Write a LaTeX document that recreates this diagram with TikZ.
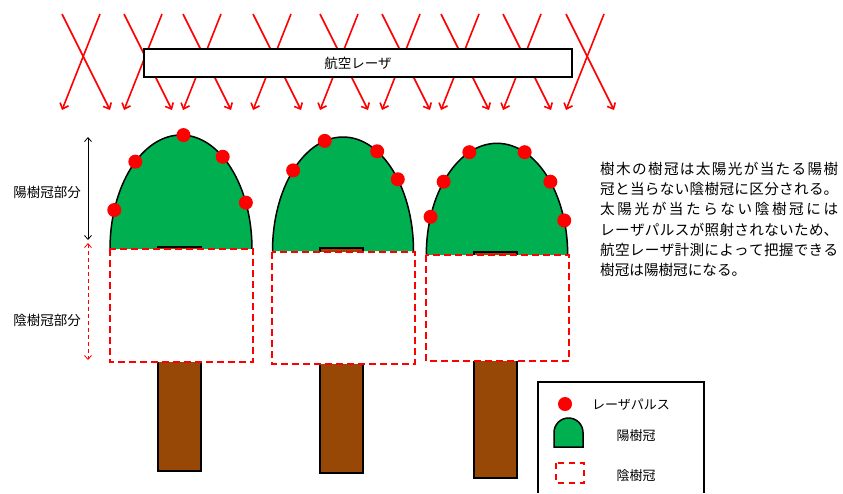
\documentclass[tikz,border=0pt]{standalone}
\usepackage{fontspec}
\setmainfont{Noto Sans CJK JP}
\definecolor{crowngreen}{RGB}{0,176,80}
\definecolor{trunkbrown}{RGB}{151,72,6}
\definecolor{pulsered}{RGB}{255,0,0}
\usetikzlibrary{arrows.meta, positioning, calc}
% Japanese line breaking: stretchable glue between characters, no automatic breaks
\XeTeXlinebreaklocale "ja"
\XeTeXlinebreakskip=0pt plus 6pt
\XeTeXlinebreakpenalty=10000

\begin{document}
\begin{tikzpicture}[
        x=1pt, y=-1pt,
        laser/.style={draw=pulsered, line width=1.6pt,
                      -{Straight Barb[length=5pt,width=9pt]}},
        crown/.style={draw, line width=1.5pt, fill=crowngreen},
        trunk/.style={draw, line width=1.2pt, fill=trunkbrown},
        shadebox/.style={draw=pulsered, line width=1.6pt,
                         dash pattern=on 7pt off 4pt, fill=white},
        pulsedot/.style={circle, fill=pulsered, inner sep=0pt, minimum size=14pt},
        dimarrow/.style={{Straight Barb[length=4pt,width=7pt]}-{Straight Barb[length=4pt,width=7pt]},
                         line width=0.8pt},
        sidetext/.style={font=\fontsize{13.5}{16}\selectfont},
        legtext/.style={font=\fontsize{13}{16}\selectfont}
    ]
        \useasboundingbox (0,0) rectangle (843,493);

        % Laser beams crossing above the canopy
        \foreach \x in {62,124,183,253,320,382,441,503,566} {
            \draw[laser] (\x+38,14) -- (\x,110);
            \draw[laser] (\x,14) -- (\x+48,110);
        }
        \node[draw, line width=1.8pt, fill=white, minimum width=428pt,
              minimum height=28pt, inner sep=0pt,
              font=\fontsize{13.5}{16}\selectfont] (lidar) at (358,63) {航空レーザ};

        % Tree 1
        \coordinate (c1) at (181,249);
        \draw[crown] (110,249) arc[start angle=180, end angle=0, x radius=71pt, y radius=114pt];
        \draw[trunk] (158,247) rectangle (201,471);
        \draw[shadebox] (110,249) rectangle (253,362);
        \node[pulsedot] (p11) at ($(c1)+(88:71pt and 114pt)$) {};
        \node[pulsedot] (p12) at ($(c1)+(130:71pt and 114pt)$) {};
        \node[pulsedot] (p13) at ($(c1)+(54:71pt and 114pt)$) {};
        \node[pulsedot] (p14) at ($(c1)+(160:71pt and 114pt)$) {};
        \node[pulsedot] (p15) at ($(c1)+(24:71pt and 114pt)$) {};

        % Tree 2
        \coordinate (c2) at (343,251);
        \draw[crown] (272.5,251) arc[start angle=180, end angle=0, x radius=70.5pt, y radius=114pt];
        \draw[trunk] (320,248) rectangle (363,473);
        \draw[shadebox] (272,252) rectangle (415,364);
        \node[pulsedot] (p21) at ($(c2)+(105:70.5pt and 114pt)$) {};
        \node[pulsedot] (p22) at ($(c2)+(135:70.5pt and 114pt)$) {};
        \node[pulsedot] (p23) at ($(c2)+(61:70.5pt and 114pt)$) {};
        \node[pulsedot] (p24) at ($(c2)+(39:70.5pt and 114pt)$) {};

        % Tree 3
        \coordinate (c3) at (497,255);
        \draw[crown] (426.3,255) arc[start angle=180, end angle=0, x radius=70.7pt, y radius=111.7pt];
        \draw[trunk] (474,252) rectangle (517,478);
        \draw[shadebox] (426,255) rectangle (569,361);
        \node[pulsedot] (p31) at ($(c3)+(113:70.7pt and 111.7pt)$) {};
        \node[pulsedot] (p32) at ($(c3)+(67:70.7pt and 111.7pt)$) {};
        \node[pulsedot] (p33) at ($(c3)+(139:70.7pt and 111.7pt)$) {};
        \node[pulsedot] (p34) at ($(c3)+(41:70.7pt and 111.7pt)$) {};
        \node[pulsedot] (p35) at ($(c3)+(160:70.7pt and 111.7pt)$) {};
        \node[pulsedot] (p36) at ($(c3)+(18:70.7pt and 111.7pt)$) {};

        % Sunlit / shaded crown extents
        \coordinate (sunTop) at (88,137);
        \coordinate (sunBot) at (88,240);
        \coordinate (shadeTop) at (88,243);
        \coordinate (shadeBot) at (88,360);
        \draw[dimarrow] (sunTop) -- (sunBot);
        \draw[dimarrow, pulsered, dash pattern=on 4pt off 3pt] (shadeTop) -- (shadeBot);
        \node[sidetext] (sunlbl) at (47,192) {陽樹冠部分};
        \node[sidetext] (shadelbl) at (47,320) {陰樹冠部分};

        % Explanation
        \node[anchor=north west, inner sep=0pt, text width=238pt, align=justify,
              font=\fontsize{14.6}{20.2}\selectfont] (note) at (600,162) {\noindent
            樹木の樹冠は太陽光が当たる陽樹\linebreak
            冠と当らない陰樹冠に区分される。\linebreak
            太陽光が当たらない陰樹冠には\linebreak
            レーザパルスが照射されないため、\linebreak
            航空レーザ計測によって把握できる\linebreak
            樹冠は陽樹冠になる。};

        % Legend
        \draw[line width=1.2pt] (538,493) -- (538,382) -- (704,382) -- (704,493);
        \node[pulsedot] (legdot) at (565,404) {};
        \node[legtext, anchor=west, inner sep=0pt] (legdotlbl) at (592,405) {レーザパルス};
        \draw[crown] (554,447) -- (554,432.5) arc[start angle=180, end angle=0, radius=14.5pt]
            -- (583,447) -- cycle;
        \node[legtext] (legsunlbl) at (636,436) {陽樹冠};
        \draw[shadebox, line width=1.5pt, dash pattern=on 6pt off 5pt] (556,463) rectangle (584,483);
        \node[legtext] (legshadelbl) at (636,476) {陰樹冠};
    \end{tikzpicture}
\end{document}
